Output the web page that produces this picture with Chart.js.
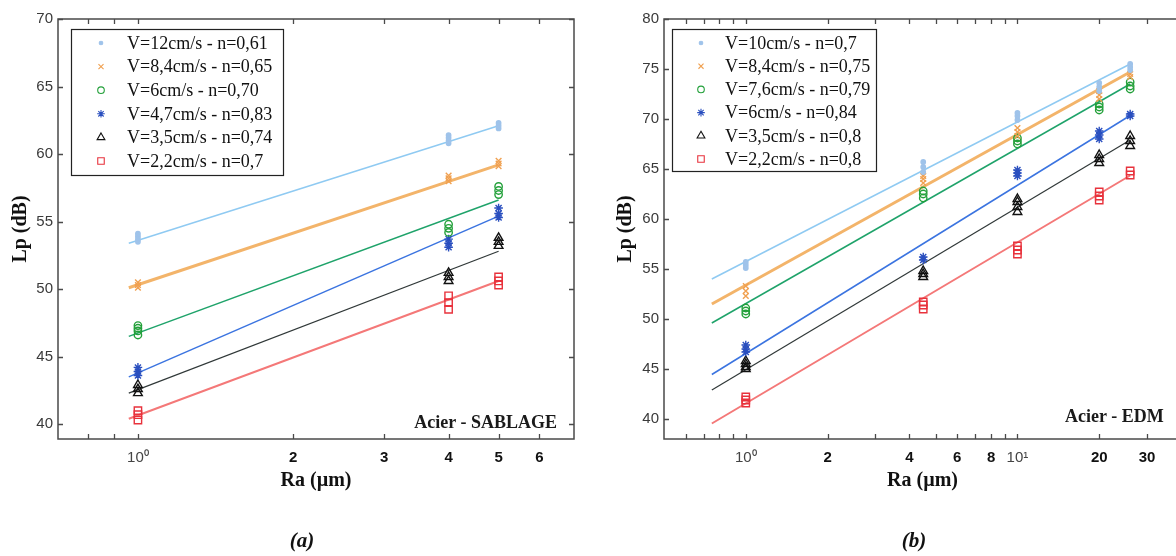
<!DOCTYPE html>
<html>
<head>
<meta charset="utf-8">
<script src="https://cdn.jsdelivr.net/npm/chart.js"></script>
<style>
html,body{margin:0;padding:0;background:#fff;width:1176px;height:556px;overflow:hidden;position:relative;}
#ca{position:absolute;left:0;top:0;}
#cb{position:absolute;left:590px;top:0;}
.cap{position:absolute;top:530px;font:italic bold 21px 'Liberation Serif',serif;line-height:21px;color:#111;transform:translateX(-50%);white-space:nowrap;}
.note{position:absolute;font:bold 18px 'Liberation Serif',serif;line-height:18px;color:#1a1a1a;white-space:nowrap;}
</style>
</head>
<body>
<canvas id="ca" width="590" height="556"></canvas>
<canvas id="cb" width="620" height="556"></canvas>
<div class="note" style="right:619px;top:413px;">Acier - SABLAGE</div>
<div class="note" style="left:1065px;top:407px;">Acier - EDM</div>
<div class="cap" style="left:302px;">(a)</div>
<div class="cap" style="left:914px;">(b)</div>
<script>
// ---------- Panel (a) : Acier - SABLAGE ----------
const raA = [1, 4, 5];
const labelsA = ['V=12cm/s - n=0,61', 'V=8,4cm/s - n=0,65', 'V=6cm/s - n=0,70',
                 'V=4,7cm/s - n=0,83', 'V=3,5cm/s - n=0,74', 'V=2,2cm/s - n=0,7'];
const lpA_V12  = [[53.5, 53.7, 53.9, 54.1], [60.8, 61.0, 61.2, 61.4], [61.9, 62.1, 62.3]];
const lpA_V84  = [[50.1, 50.3, 50.5], [58.0, 58.2, 58.4], [59.1, 59.3, 59.5]];
const lpA_V6   = [[46.6, 46.9, 47.1, 47.3], [54.2, 54.5, 54.8], [57.0, 57.3, 57.6]];
const lpA_V47  = [[43.6, 43.9, 44.2], [53.1, 53.4, 53.7], [55.3, 55.6, 56.0]];
const lpA_V35  = [[42.3, 42.6, 42.9], [50.6, 50.9, 51.2], [53.2, 53.5, 53.8]];
const lpA_V22  = [[40.3, 40.7, 41.0], [48.5, 49.0, 49.5], [50.3, 50.6, 50.9]];
const fitXA = [0.96, 5];
const fitA_V12 = [53.4, 62.1];
const fitA_V84 = [50.1, 59.2];
const fitA_V6  = [46.5, 56.6];
const fitA_V47 = [43.5, 55.4];
const fitA_V35 = [42.3, 52.8];
const fitA_V22 = [40.4, 50.6];
const xTicksA = [0.8, 0.9, 1, 2, 3, 4, 5, 6];
const xTickLabelsA = ['', '', '10\u2070', '2', '3', '4', '5', '6'];
const yTicksA = [40, 45, 50, 55, 60, 65, 70];

// ---------- Panel (b) : Acier - EDM ----------
const raB = [1, 4.5, 10, 20, 26];
const labelsB = ['V=10cm/s - n=0,7', 'V=8,4cm/s - n=0,75', 'V=7,6cm/s - n=0,79',
                 'V=6cm/s - n=0,84', 'V=3,5cm/s - n=0,8', 'V=2,2cm/s - n=0,8'];
const lpB_V10 = [[55.1, 55.4, 55.7], [64.7, 65.2, 65.7], [69.9, 70.3, 70.6], [72.8, 73.2, 73.6], [74.9, 75.2, 75.5]];
const lpB_V84 = [[52.3, 52.8, 53.3], [63.6, 64.0, 64.3], [68.3, 68.7, 69.1], [72.0, 72.4, 72.8], [74.2, 74.5]];
const lpB_V76 = [[50.5, 50.8, 51.1], [62.1, 62.5, 62.8], [67.5, 67.8, 68.1], [70.9, 71.2, 71.5], [73.0, 73.3, 73.7]];
const lpB_V6  = [[46.7, 47.0, 47.4], [55.9, 56.2], [64.3, 64.6, 64.9], [68.0, 68.4, 68.8], [70.3, 70.5]];
const lpB_V35 = [[45.0, 45.2, 45.5, 45.8], [54.2, 54.5, 54.8], [60.7, 61.2, 61.7, 62.0], [65.6, 66.0, 66.4], [67.3, 67.8, 68.3]];
const lpB_V22 = [[41.6, 41.9, 42.2], [51.0, 51.4, 51.7], [56.5, 56.9, 57.3], [61.9, 62.3, 62.7], [64.4, 64.8]];
const fitXB = [0.75, 26];
const fitB_V10 = [54.0, 75.5];
const fitB_V84 = [51.5, 74.7];
const fitB_V76 = [49.6, 73.5];
const fitB_V6  = [44.45, 70.35];
const fitB_V35 = [42.9, 67.9];
const fitB_V22 = [39.55, 64.35];
const xTicksB = [0.6, 0.7, 0.8, 0.9, 1, 2, 3, 4, 5, 6, 7, 8, 9, 10, 20, 30];
const xTickLabelsB = ['', '', '', '', '10\u2070', '2', '', '4', '', '6', '', '8', '', '10\u00B9', '20', '30'];
const yTicksB = [40, 45, 50, 55, 60, 65, 70, 75, 80];

// ---------- styles ----------
const STYLES = [
  {pt: 'circle',   r: 2.2, pc: '#9fc3ea', fill: '#9fc3ea',          lc: '#8fcaf2', lw: 1.5},
  {pt: 'crossRot', r: 4.0, pc: '#f0a050', fill: 'rgba(0,0,0,0)',    lc: '#f3b46a', lw: 3},
  {pt: 'circle',   r: 3.7, pc: '#23a03a', fill: 'rgba(0,0,0,0)',    lc: '#1fa36a', lw: 1.5},
  {pt: 'star',     r: 4.3, pc: '#2a4fbf', fill: '#2a4fbf',          lc: '#3b74e0', lw: 1.5},
  {pt: 'triangle', r: 5.0, pc: '#111111', fill: 'rgba(0,0,0,0)',    lc: '#303838', lw: 1.2},
  {pt: 'rect',     r: 5.2, pc: '#e8323c', fill: 'rgba(0,0,0,0)',    lc: '#f47878', lw: 2}
];
const LEGEND_R = [1.8, 3.6, 3.3, 3.8, 4.5, 4.6];

function buildDatasets(ra, series, labels, fitX, fits) {
  const ds = [];
  series.forEach((vals, k) => {
    const s = STYLES[k];
    ds.push({
      label: labels[k], isPts: true, styleIdx: k,
      data: ra.flatMap((r, i) => vals[i].map(v => ({x: r, y: v}))),
      showLine: false, order: 0,
      pointStyle: s.pt, pointRadius: s.r, pointBorderColor: s.pc,
      pointBackgroundColor: s.fill, pointBorderWidth: 1.4,
      borderColor: s.pc, backgroundColor: s.fill
    });
    ds.push({
      label: 'fit', isPts: false,
      data: fitX.map((x, i) => ({x: x, y: fits[k][i]})),
      showLine: true, order: 1, pointRadius: 0,
      borderColor: s.lc, borderWidth: s.lw, fill: false
    });
  });
  return ds;
}

function drawMarker(ctx, s, r, x, y) {
  ctx.save();
  ctx.strokeStyle = s.pc; ctx.fillStyle = s.fill; ctx.lineWidth = 1.1;
  if (Chart.helpers && Chart.helpers.drawPoint) {
    Chart.helpers.drawPoint(ctx, {pointStyle: s.pt, radius: r, rotation: 0, borderWidth: 1.1}, x, y);
  } else {
    ctx.beginPath(); ctx.arc(x, y, r, 0, Math.PI * 2); ctx.fill(); ctx.stroke();
  }
  ctx.restore();
}

const framePlugin = {
  id: 'frame',
  afterDraw(chart) {
    const {ctx, chartArea: a, scales: {x, y}} = chart;
    ctx.save();
    ctx.strokeStyle = '#4a4a4a'; ctx.lineWidth = 1.3;
    ctx.beginPath();
    x.ticks.forEach(t => {
      const px = Math.round(x.getPixelForValue(t.value)) + 0.5;
      if (px < a.left + 1 || px > a.right - 1) return;
      ctx.moveTo(px, a.bottom); ctx.lineTo(px, a.bottom - 5);
      ctx.moveTo(px, a.top); ctx.lineTo(px, a.top + 5);
    });
    y.ticks.forEach(t => {
      const py = Math.round(y.getPixelForValue(t.value)) + 0.5;
      ctx.moveTo(a.left, py); ctx.lineTo(a.left + 5, py);
      ctx.moveTo(a.right, py); ctx.lineTo(a.right - 5, py);
    });
    ctx.stroke();
    ctx.lineWidth = 1.5;
    ctx.strokeRect(a.left, a.top, a.right - a.left, a.bottom - a.top);
    ctx.restore();
  }
};

const boxLegendPlugin = {
  id: 'boxLegend',
  afterDatasetsDraw(chart, args, o) {
    const {ctx, chartArea: a} = chart;
    const x0 = a.left + o.dx, y0 = a.top + o.dy;
    ctx.save();
    ctx.fillStyle = '#fff'; ctx.fillRect(x0, y0, o.w, o.h);
    ctx.strokeStyle = '#222'; ctx.lineWidth = 1.2;
    ctx.strokeRect(x0 + 0.5, y0 + 0.5, o.w, o.h);
    ctx.font = "18px 'Liberation Serif', serif";
    ctx.textBaseline = 'middle'; ctx.textAlign = 'left';
    chart.data.datasets.filter(d => d.isPts).forEach((d, i) => {
      const cy = y0 + o.first + i * o.rowH;
      drawMarker(ctx, STYLES[d.styleIdx], LEGEND_R[d.styleIdx], x0 + o.mx, cy);
      ctx.fillStyle = '#111';
      ctx.fillText(d.label, x0 + o.tx, cy + 1);
    });
    ctx.restore();
  }
};

function isPow(c) { return c.tick && (c.tick.value === 1 || c.tick.value === 10); }

function makeChart(id, datasets, xmin, xmax, xTicks, xLabels, ymin, ymax, yTicks, yAxisW, yTitlePad, pad, legendOpts) {
  return new Chart(document.getElementById(id), {
    type: 'scatter',
    data: {datasets: datasets},
    options: {
      responsive: false, animation: false, devicePixelRatio: 1,
      layout: {padding: pad},
      plugins: {legend: {display: false}, tooltip: {enabled: false}, boxLegend: legendOpts},
      scales: {
        x: {
          type: 'logarithmic', min: xmin, max: xmax,
          afterBuildTicks: s => { s.ticks = xTicks.map(v => ({value: v})); },
          afterFit: s => { s.height = 60; },
          grid: {display: false, drawTicks: false}, border: {display: false},
          ticks: {
            autoSkip: false, maxRotation: 0, minRotation: 0, padding: 10,
            callback: (v) => { const i = xTicks.indexOf(v); return i >= 0 ? xLabels[i] : ''; },
            font: (c) => ({family: "'Liberation Sans', Arial, sans-serif", size: 15, weight: isPow(c) ? 'normal' : 'bold'}),
            color: (c) => isPow(c) ? '#444' : '#111'
          },
          title: {display: true, text: 'Ra (\u00B5m)', color: '#111',
                  font: {family: "'Liberation Serif', serif", size: 20, weight: 'bold'},
                  padding: {top: 0, bottom: 6}}
        },
        y: {
          type: 'linear', min: ymin, max: ymax,
          afterBuildTicks: s => { s.ticks = yTicks.map(v => ({value: v})); },
          afterFit: s => { s.width = yAxisW; },
          grid: {display: false, drawTicks: false}, border: {display: false},
          ticks: {padding: 5, color: '#3a3a3a', font: {family: "'Liberation Sans', Arial, sans-serif", size: 15}},
          title: {display: true, text: 'Lp (dB)', color: '#111',
                  font: {family: "'Liberation Serif', serif", size: 20, weight: 'bold'},
                  padding: {top: yTitlePad, bottom: 0}}
        }
      }
    },
    plugins: [framePlugin, boxLegendPlugin]
  });
}

makeChart('ca',
  buildDatasets(raA, [lpA_V12, lpA_V84, lpA_V6, lpA_V47, lpA_V35, lpA_V22], labelsA, fitXA,
                [fitA_V12, fitA_V84, fitA_V6, fitA_V47, fitA_V35, fitA_V22]),
  0.7, 7, xTicksA, xTickLabelsA, 38.9, 70, yTicksA, 58, 9,
  {left: 0, right: 16, top: 19, bottom: 57},
  {dx: 13, dy: 10, w: 212, h: 146, first: 14, rowH: 23.6, mx: 30, tx: 56});

makeChart('cb',
  buildDatasets(raB, [lpB_V10, lpB_V84, lpB_V76, lpB_V6, lpB_V35, lpB_V22], labelsB, fitXB,
                [fitB_V10, fitB_V84, fitB_V76, fitB_V6, fitB_V35, fitB_V22]),
  0.5, 40, xTicksB, xTickLabelsB, 38, 80, yTicksB, 74, 24,
  {left: 0, right: 29, top: 19, bottom: 57},
  {dx: 8, dy: 10, w: 204, h: 142, first: 14, rowH: 23.2, mx: 29, tx: 53});
</script>
</body>
</html>
